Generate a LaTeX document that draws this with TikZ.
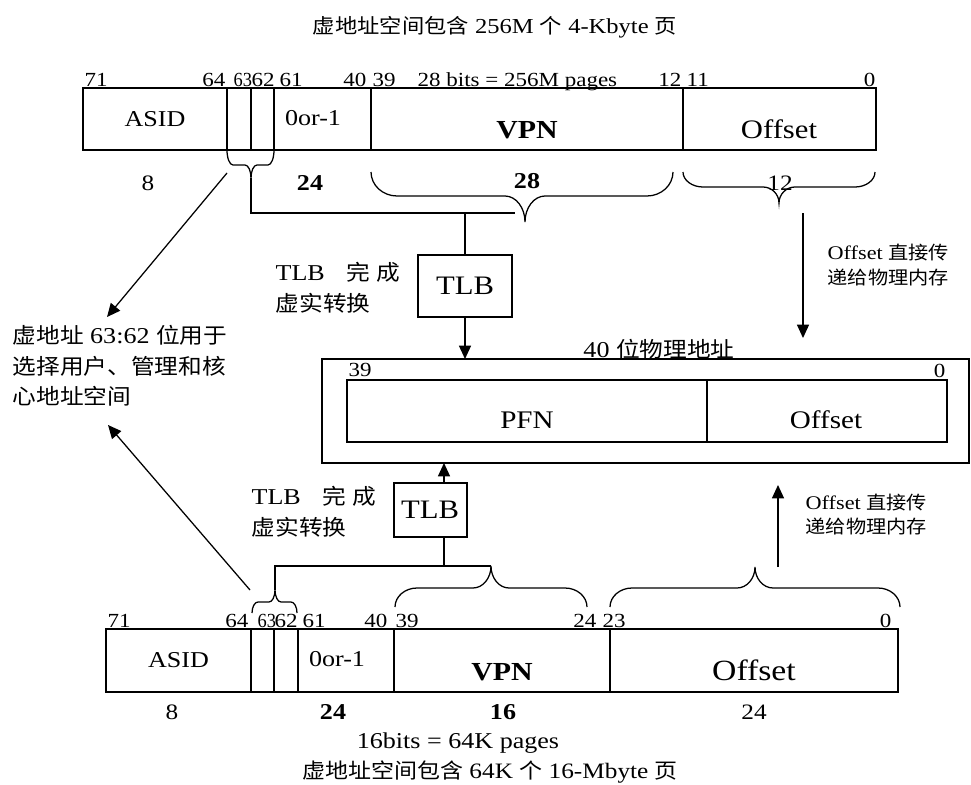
\documentclass[tikz,border=0pt]{standalone}
\usepackage{graphicx}
\usepackage{fontspec}
\setmainfont{Liberation Serif}[FakeStretch=1.15]
\newfontfamily\zhfont{Noto Sans CJK SC}[Scale=0.95, FakeStretch=1.1]
\newcommand{\zh}[1]{{\zhfont #1}}
\usetikzlibrary{arrows.meta, positioning}

% one field of a register: name, x1, x2, y1, y2, text
\newcommand{\regfield}[6]{%
  \node[field, minimum width={(#3-#2)*0.75pt}, minimum height={(#5-#4)*0.75pt}] (#1) at (#2,#4) {#6};}
% curly brace: x1, x2, tip x, end y, middle y, tip y, end radius, tip radius
\newcommand{\curlybrace}[8]{%
  \draw (#1,#4) .. controls (#1,{#4+0.55*(#5-#4)}) and ({#1+0.45*#7},#5) .. ({#1+#7},#5)
    -- ({#3-#8},#5) .. controls ({#3-0.45*#8},#5) and (#3,{#5+0.45*(#6-#5)}) .. (#3,#6)
    .. controls (#3,{#5+0.45*(#6-#5)}) and ({#3+0.45*#8},#5) .. ({#3+#8},#5)
    -- ({#2-#7},#5) .. controls ({#2-0.45*#7},#5) and (#2,{#4+0.55*(#5-#4)}) .. (#2,#4);}

\begin{document}
\begin{tikzpicture}[x=0.75pt, y=-0.75pt, line width=0.95pt,
    >={Triangle[length=10pt, width=9pt]},
    field/.style={draw, line width=1.35pt, inner sep=0pt, outer sep=0pt, anchor=north west,
      font=\fontsize{17}{17}\selectfont},
    fieldtext/.style={inner sep=0pt, font=\fontsize{17}{17}\selectfont},
    bigtext/.style={inner sep=0pt, font=\fontsize{20}{20}\selectfont},
    bitno/.style={inner sep=0pt, anchor=base west, font=\fontsize{15}{15}\selectfont},
    bitnoR/.style={bitno, anchor=base east},
    fieldlen/.style={inner sep=0pt, font=\fontsize{16.5}{16.5}\selectfont},
    fieldlenB/.style={inner sep=0pt, font=\fontsize{17}{17}\selectfont\bfseries},
    note/.style={inner sep=0pt, anchor=west, align=left},
  ]
  \useasboundingbox (0,0) rectangle (971,785);

  % titles
  \node[font=\fontsize{16}{16}\selectfont] (titleA) at (495,27) {\zh{虚地址空间包含} 256M \zh{个} 4-Kbyte \zh{页}};
  \node[font=\fontsize{17}{17}\selectfont] (pagesB) at (458,743) {16bits = 64K pages};
  \node[font=\fontsize{16.5}{16.5}\selectfont] (titleB) at (490,772) {\zh{虚地址空间包含} 64K \zh{个} 16-Mbyte \zh{页}};

  % 4-Kbyte page address
  \regfield{asidA}{83}{227}{88}{150}{ASID}
  \regfield{selA}{227}{251}{88}{150}{}
  \regfield{selAb}{251}{274}{88}{150}{}
  \regfield{fillA}{274}{371}{88}{150}{}
  \regfield{vpnA}{371}{683}{88}{150}{}
  \regfield{offA}{683}{876}{88}{150}{}
  \node[fieldtext] (fillAt) at (313,118) {0or-1};
  \node[bigtext, font=\fontsize{19.5}{19.5}\selectfont\bfseries] (vpnAt) at (527,130) {VPN};
  \node[bigtext] (offAt) at (779,129) {Offset};

  \node[bitno] (bA71) at (84,86) {71};
  \node[bitnoR] (bA64) at (226,86) {64};
  \node[bitno] (bA63) at (233,86) {\scalebox{0.8}[1]{63}};
  \node[bitno] (bA62) at (251,86) {62};
  \node[bitno] (bA61) at (279,86) {61};
  \node[bitnoR] (bA40) at (367,86) {40};
  \node[bitno] (bA39) at (372,86) {39};
  \node[bitno] (bApg) at (417,86) {28 bits = 256M pages};
  \node[bitnoR] (bA12) at (682,86) {12};
  \node[bitno] (bA11) at (686,86) {11};
  \node[bitnoR] (bA0) at (876,86) {0};

  \node[fieldlen] (lenA8) at (148,183) {8};
  \node[fieldlenB] (lenA24) at (310,183) {24};
  \node[fieldlenB] (lenA28) at (527,181) {28};
  \node[fieldlen] (lenA12) at (780,183) {12};

  \curlybrace{227}{274}{251}{150}{165}{178}{6}{6}
  \curlybrace{371}{673}{525}{172}{196}{222}{26}{20}
  \curlybrace{683}{875}{779}{172}{187}{203}{20}{16}

  % physical address
  \regfield{physbox}{322}{969}{359}{463}{}
  \regfield{pfn}{347}{707}{380}{442}{}
  \regfield{poff}{707}{947}{380}{442}{}
  \node[bigtext, font=\fontsize{19}{19}\selectfont] (pfnt) at (527,420) {PFN};
  \node[bigtext, font=\fontsize{19}{19}\selectfont] (pofft) at (826,420) {Offset};
  \node[font=\fontsize{17}{17}\selectfont, inner sep=0pt] (physlbl) at (659,349) {40 \zh{位物理地址}};
  \node[bitno, anchor=west] (p39) at (348,370) {39};
  \node[bitno, anchor=east] (p0) at (946,371) {0};

  % TLB boxes
  \regfield{tlbA}{418}{512}{255}{317}{}
  \node[bigtext] (tlbAt) at (465,286) {TLB};
  \regfield{tlbB}{394}{467}{483}{537}{}
  \node[bigtext] (tlbBt) at (430,510) {TLB};

  \node[note, font=\fontsize{17}{23}\selectfont] (tlbnoteA) at (275,288) {TLB\hspace{16pt}\zh{完}\hspace{5pt}\zh{成}\\\zh{虚实转换}};
  \node[note, font=\fontsize{17}{23}\selectfont] (tlbnoteB) at (251,512) {TLB\hspace{16pt}\zh{完}\hspace{5pt}\zh{成}\\\zh{虚实转换}};
  \node[note, font=\fontsize{14.5}{18.75}\selectfont] (offnoteA) at (827,265) {Offset \zh{直接传}\\\zh{递给物理内存}};
  \node[note, font=\fontsize{14.5}{18}\selectfont] (offnoteB) at (805,515) {Offset \zh{直接传}\\\zh{递给物理内存}};
  \node[note, font=\fontsize{17}{23}\selectfont] (selnote) at (12,366) {\zh{虚地址} 63:62 \zh{位用于}\\\zh{选择用户、管理和核}\\\zh{心地址空间}};

  % 16-Mbyte page address
  \regfield{asidB}{106}{251}{629}{692}{ASID}
  \regfield{selB}{251}{274}{629}{692}{}
  \regfield{selBb}{274}{298}{629}{692}{}
  \regfield{fillB}{298}{394}{629}{692}{}
  \regfield{vpnB}{394}{610}{629}{692}{}
  \regfield{offB}{610}{898}{629}{692}{}
  \node[fieldtext] (fillBt) at (337,659) {0or-1};
  \node[bigtext, font=\fontsize{19.5}{19.5}\selectfont\bfseries] (vpnBt) at (502,672) {VPN};
  \node[bigtext, font=\fontsize{22}{22}\selectfont] (offBt) at (754,670) {Offset};

  \node[bitno] (bB71) at (107,627) {71};
  \node[bitnoR] (bB64) at (249,627) {64};
  \node[bitno] (bB63) at (257,627) {\scalebox{0.8}[1]{63}};
  \node[bitno] (bB62) at (274,627) {62};
  \node[bitno] (bB61) at (302,627) {61};
  \node[bitnoR] (bB40) at (388,627) {40};
  \node[bitno] (bB39) at (395,627) {39};
  \node[bitnoR] (bB24) at (597,627) {24};
  \node[bitno] (bB23) at (602,627) {23};
  \node[bitnoR] (bB0) at (892,627) {0};

  \node[fieldlen] (lenB8) at (172,712) {8};
  \node[fieldlenB] (lenB24) at (333,712) {24};
  \node[fieldlenB] (lenB16) at (503,712) {16};
  \node[fieldlen] (lenB24b) at (754,712) {24};

  \curlybrace{252}{297}{275}{613}{602}{590}{6}{6}
  \curlybrace{395}{587}{491}{607}{588}{566}{22}{18}
  \curlybrace{610}{900}{755}{607}{588}{567}{22}{18}

  % connectors
  \coordinate (tipA) at (251,178);
  \coordinate (joinA) at (515,213);
  \draw (tipA) |- (joinA);
  \draw (tlbA.north) -- (tlbA.north |- joinA);
  \draw[->] (tlbA.south) -- (tlbA.south |- physbox.north);

  \coordinate (tipB) at (275,590);
  \coordinate (joinB) at (491,566);
  \draw (tipB) |- (joinB);
  \coordinate (trunkB) at (444,566);
  \draw (trunkB) -- (trunkB |- tlbB.south);
  \draw[->] (trunkB |- tlbB.north) -- (trunkB |- physbox.south);

  \coordinate (offsrcA) at (803,213);
  \coordinate (offdstA) at (803,338);
  \draw[->] (offsrcA) -- (offdstA);
  \coordinate (offsrcB) at (778,567);
  \coordinate (offdstB) at (778,485);
  \draw[->] (offsrcB) -- (offdstB);

  \coordinate (selsrcA) at (227,173);
  \coordinate (seldstA) at (107,317);
  \draw[->] (selsrcA) -- (seldstA);
  \coordinate (selsrcB) at (250,590);
  \coordinate (seldstB) at (108,425);
  \draw[->] (selsrcB) -- (seldstB);
\end{tikzpicture}
\end{document}
